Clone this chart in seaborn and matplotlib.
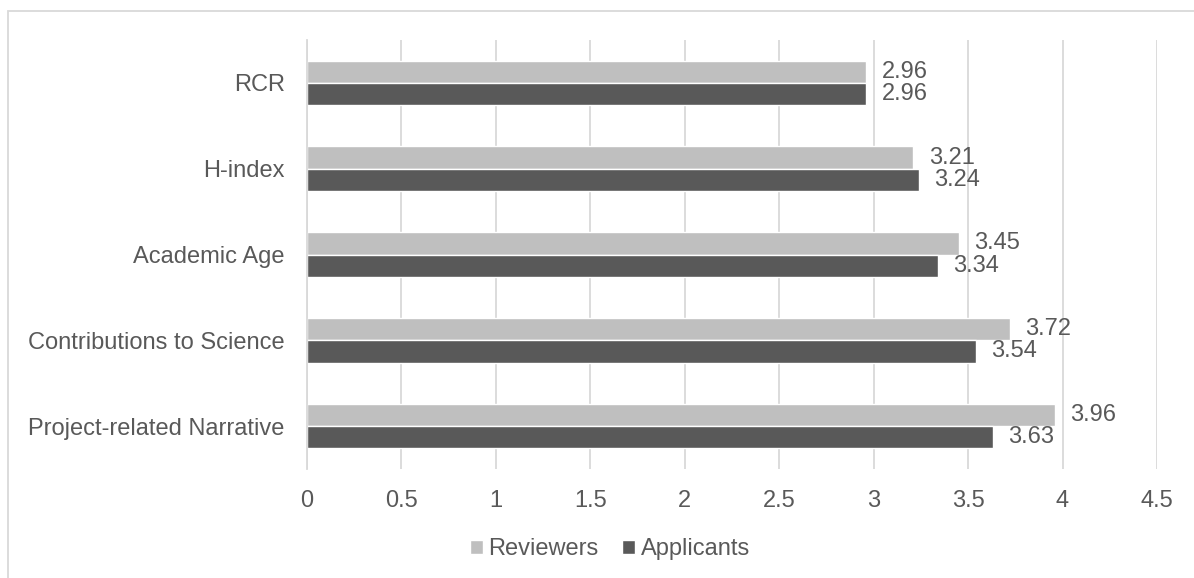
import numpy as np
import pandas as pd
import matplotlib.pyplot as plt
import seaborn as sns
from matplotlib.patches import Rectangle

# dados
categorias = ['RCR', 'H-index', 'Academic Age', 'Contributions to Science', 'Project-related Narrative']
reviewers = [2.96, 3.21, 3.45, 3.72, 3.96]
applicants = [2.96, 3.24, 3.34, 3.54, 3.63]
series = ['Reviewers', 'Applicants']
x_ticks = [0, 0.5, 1, 1.5, 2, 2.5, 3, 3.5, 4, 4.5]

df = pd.DataFrame({
    'categoria': categorias * 2,
    'valor': reviewers + applicants,
    'serie': [series[0]] * len(categorias) + [series[1]] * len(categorias),
})

sns.set_style('white')
plt.rcParams['font.family'] = ['Liberation Sans', 'DejaVu Sans']
cor_texto = '#595959'
fs = 17

fig = plt.figure(figsize=(11.94, 5.78), dpi=100)
ax = fig.add_axes([307 / 1194, 1 - 469 / 578, 850 / 1194, 429 / 578])

sns.barplot(data=df, y='categoria', x='valor', hue='serie', orient='h',
            palette={'Reviewers': '#bfbfbf', 'Applicants': '#595959'},
            width=0.52, ax=ax, legend=True)

for cont in ax.containers:
    ax.bar_label(cont, labels=[f'{v:.2f}' for v in cont.datavalues],
                 padding=11, fontsize=fs, color=cor_texto)

ax.set_xlim(0, 4.5)
ax.set_ylim(4.5, -0.5)
ax.set_xticks(x_ticks)
ax.set_xticklabels([f'{t:g}' for t in x_ticks])
ax.xaxis.grid(True, color='#d9d9d9', linewidth=1.3)
ax.set_axisbelow(True)
ax.tick_params(axis='both', length=0, labelsize=fs, labelcolor=cor_texto)
ax.tick_params(axis='x', pad=15)
ax.tick_params(axis='y', pad=16)
ax.set_xlabel('')
ax.set_ylabel('')
for s in ['top', 'right', 'bottom']:
    ax.spines[s].set_visible(False)
ax.spines['left'].set_color('#d9d9d9')
ax.spines['left'].set_linewidth(1.3)

ax.get_legend().remove()
handles, labels = ax.get_legend_handles_labels()
fig.legend(handles[:2], labels[:2], loc='center', bbox_to_anchor=(0.511, 0.05),
           ncol=2, frameon=False, fontsize=fs, labelcolor=cor_texto,
           handlelength=0.55, handleheight=0.55, handletextpad=0.25, columnspacing=1.0)

# borda da area do grafico (cortada a direita e embaixo)
fig.patches.append(Rectangle((8 / 1194, -0.1), 2, 567 / 578 + 0.1, transform=fig.transFigure,
                             fill=False, edgecolor='#d9d9d9', linewidth=1.3))

fig.savefig('out.png', dpi=100)
